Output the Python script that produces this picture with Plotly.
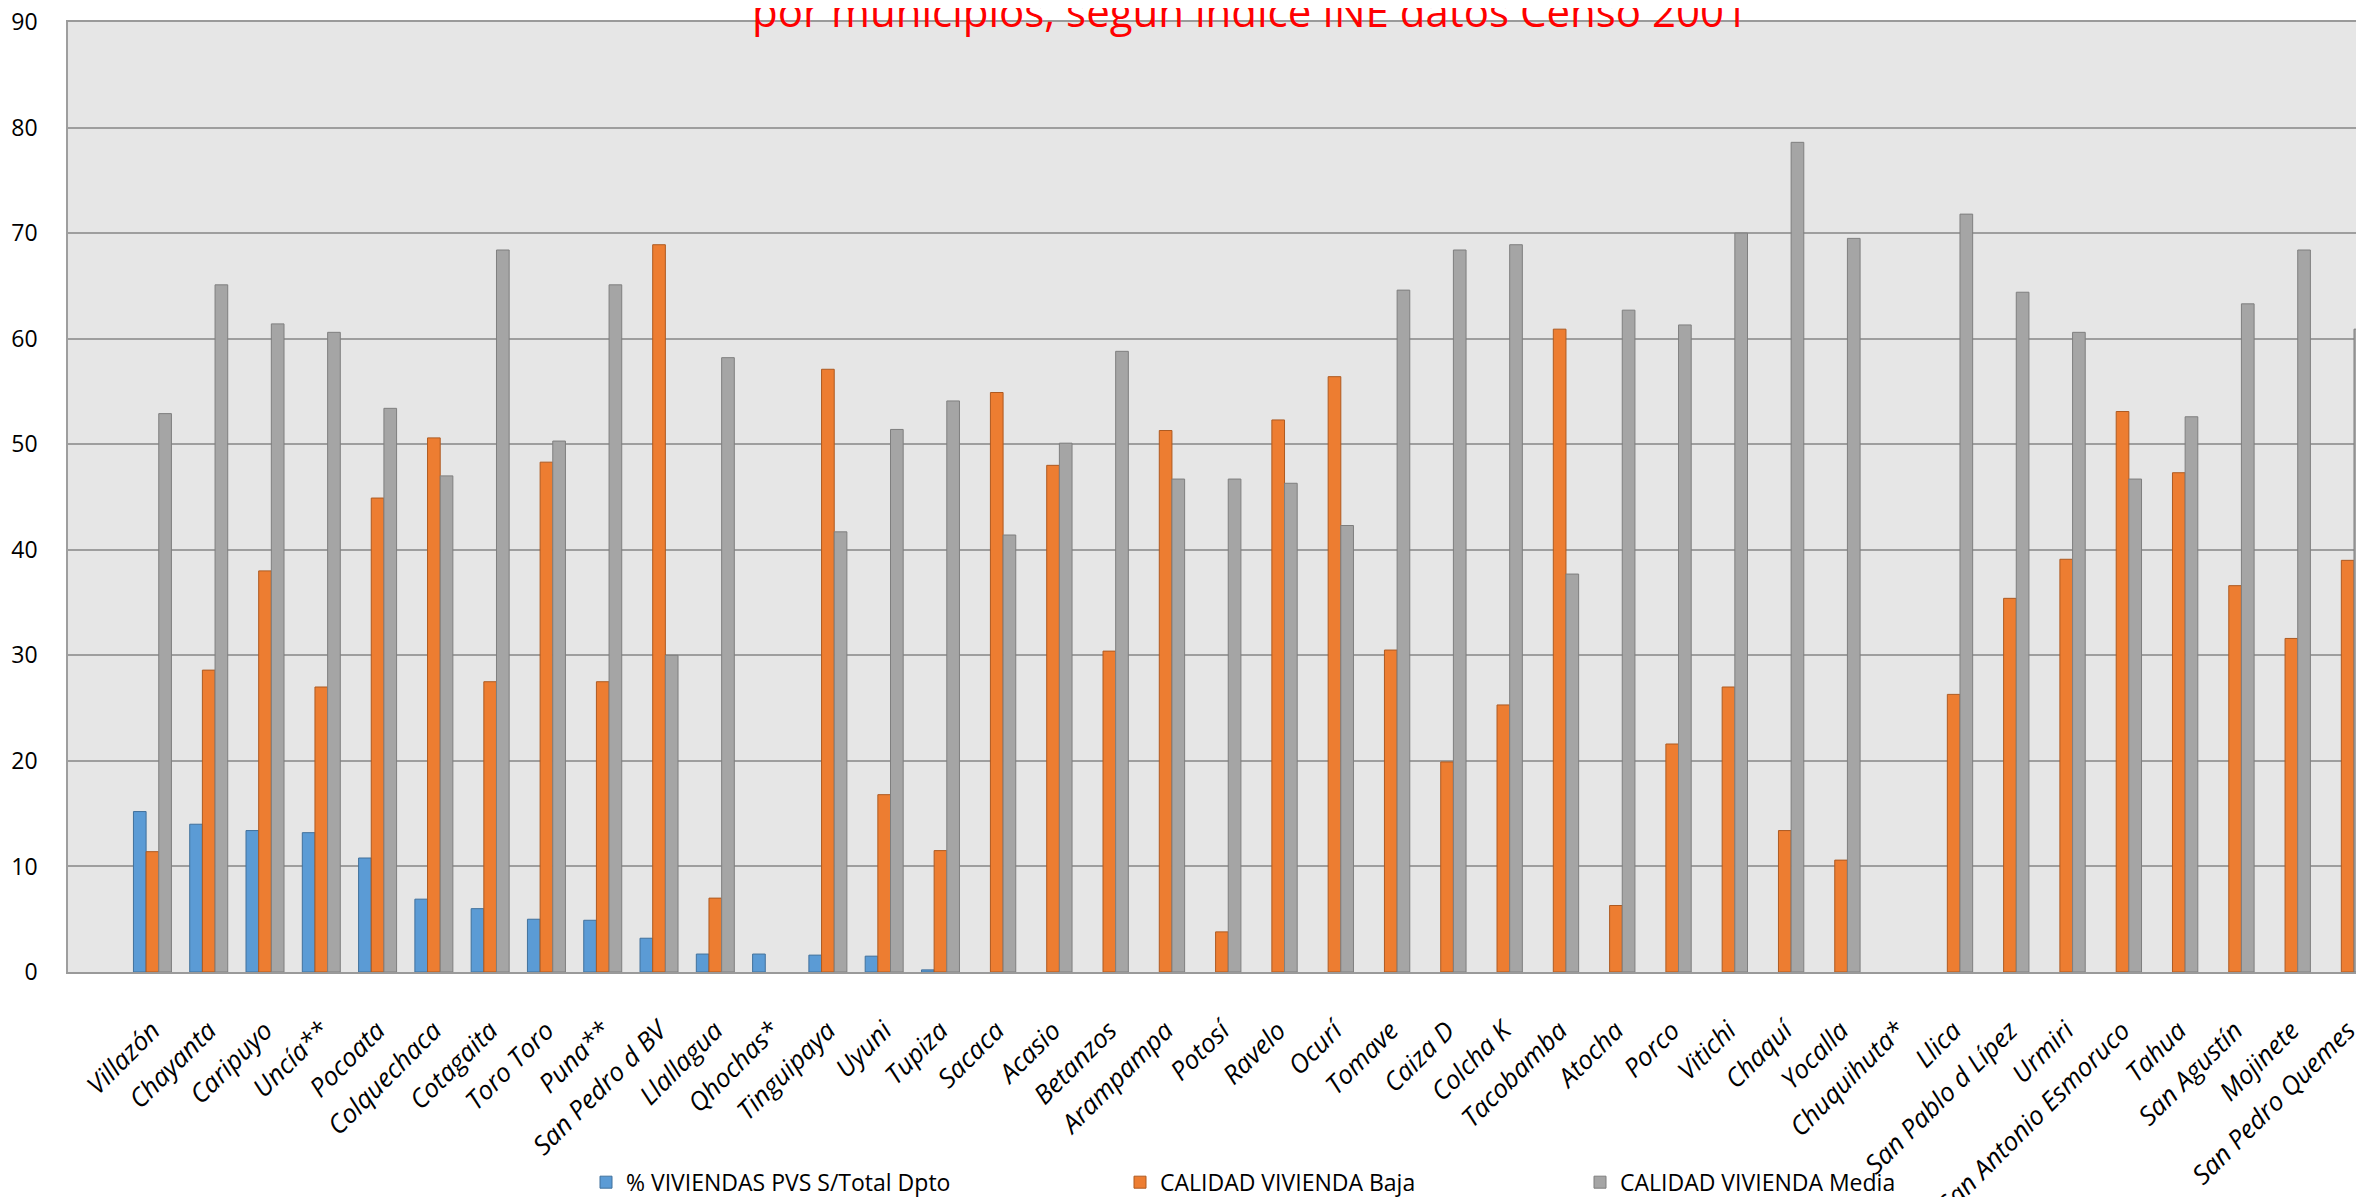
import plotly.graph_objects as go

municipios = [
    "Villazón", "Chayanta", "Caripuyo", "Uncía**", "Pocoata", "Colquechaca",
    "Cotagaita", "Toro Toro", "Puna**", "San Pedro d BV", "Llallagua", "Qhochas*",
    "Tinguipaya", "Uyuni", "Tupiza", "Sacaca", "Acasio", "Betanzos", "Arampampa",
    "Potosí", "Ravelo", "Ocurí", "Tomave", "Caiza D", "Colcha K", "Tacobamba",
    "Atocha", "Porco", "Vitichi", "Chaquí", "Yocalla", "Chuquihuta*", "Llica",
    "San Pablo d Lípez", "Urmiri", "San Antonio Esmoruco", "Tahua", "San Agustín",
    "Mojinete", "San Pedro Quemes",
]

pvs_total_dpto = [
    15.2, 14.0, 13.4, 13.2, 10.8, 6.9, 6.0, 5.0, 4.9, 3.2, 1.7, 1.7, 1.6, 1.5, 0.2,
    None, None, None, None, None, None, None, None, None, None, None, None, None,
    None, None, None, None, None, None, None, None, None, None, None, None,
]

calidad_baja = [
    11.4, 28.6, 38.0, 27.0, 44.9, 50.6, 27.5, 48.3, 27.5, 68.9, 7.0, None,
    57.1, 16.8, 11.5, 54.9, 48.0, 30.4, 51.3, 3.8, 52.3, 56.4, 30.5, 19.9, 25.3,
    60.9, 6.3, 21.6, 27.0, 13.4, 10.6, None, 26.3, 35.4, 39.1, 53.1, 47.3, 36.6,
    31.6, 39.0,
]

calidad_media = [
    52.9, 65.1, 61.4, 60.6, 53.4, 47.0, 68.4, 50.3, 65.1, 30.0, 58.2, None,
    41.7, 51.4, 54.1, 41.4, 50.1, 58.8, 46.7, 46.7, 46.3, 42.3, 64.6, 68.4, 68.9,
    37.7, 62.7, 61.3, 70.0, 78.6, 69.5, None, 71.8, 64.4, 60.6, 46.7, 52.6, 63.3,
    68.4, 60.9,
]

y_ticks = [0, 10, 20, 30, 40, 50, 60, 70, 80, 90]

series_names = ["% VIVIENDAS PVS S/Total Dpto", "CALIDAD VIVIENDA Baja", "CALIDAD VIVIENDA Media"]

FONT = "Open Sans, DejaVu Sans, sans-serif"

fig = go.Figure()
fig.add_trace(go.Bar(
    x=municipios, y=pvs_total_dpto, name=series_names[0],
    marker=dict(color="#5B9BD5", line=dict(color="#41719C", width=1)),
    legend="legend", showlegend=True,
))
fig.add_trace(go.Bar(
    x=municipios, y=calidad_baja, name=series_names[1],
    marker=dict(color="#ED7D31", line=dict(color="#AE5A21", width=1)),
    legend="legend2", showlegend=True,
))
fig.add_trace(go.Bar(
    x=municipios, y=calidad_media, name=series_names[2],
    marker=dict(color="#A5A5A5", line=dict(color="#7F7F7F", width=1)),
    legend="legend3", showlegend=True,
))

legend_common = dict(
    orientation="h", yanchor="middle", xanchor="left",
    font=dict(family=FONT, size=23, color="#000000"),
    bgcolor="rgba(0,0,0,0)", borderwidth=0,
)

# page body has an 8px margin: the figure is sized and placed to fill the window
FIG_W, FIG_H = 2356, 1189
L = 60
W = FIG_W - L

fig.update_layout(
    width=FIG_W, height=FIG_H,
    margin=dict(l=L, r=0, t=14, b=225, autoexpand=False),
    showlegend=True,
    paper_bgcolor="#FFFFFF",
    plot_bgcolor="#E6E6E6",
    barmode="group",
    bargap=0.325,
    bargroupgap=0,
    font=dict(family=FONT, color="#000000"),
    legend=dict(x=(578 - L) / W, y=-0.2213, **legend_common),
    legend2=dict(x=(1112 - L) / W, y=-0.2213, **legend_common),
    legend3=dict(x=(1572 - L) / W, y=-0.2213, **legend_common),
    xaxis=dict(
        type="category",
        range=[-1.5, 39.29],
        tickangle=-45,
        tickfont=dict(family=FONT, size=26, color="#000000", style="italic"),
        ticks="",
        ticklabelstandoff=31,
        ticklabeloverflow="allow",
        showgrid=False,
        showline=True, mirror=True, linecolor="#9A9A9A", linewidth=2,
        zeroline=False,
        automargin=False,
    ),
    yaxis=dict(
        range=[0, 90],
        tickvals=y_ticks,
        tickfont=dict(family=FONT, size=23, color="#000000"),
        ticks="",
        ticklabelstandoff=24,
        ticklabeloverflow="allow",
        showgrid=True, gridcolor="#9E9E9E", gridwidth=1.5,
        showline=True, linecolor="#9E9E9E", linewidth=1.5,
        zeroline=False,
        automargin=False,
    ),
    annotations=[dict(
        text="por municipios, según índice INE datos Censo 2001",
        xref="paper", yref="paper", x=(1241.5 - L) / W, y=0.980,
        xanchor="center", yanchor="bottom", showarrow=False,
        font=dict(family=FONT, size=42, color="#FF0000"),
    )],
)

fig.write_html("out.html")
